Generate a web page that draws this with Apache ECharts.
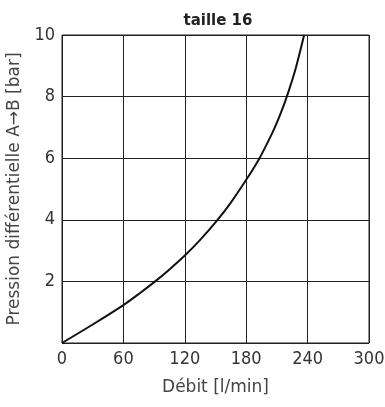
<!DOCTYPE html>
<html><head><meta charset="utf-8">
<script src="https://cdn.jsdelivr.net/npm/echarts@6/dist/echarts.min.js"></script>
<style>html,body{margin:0;padding:0;background:#fff}#c{width:385px;height:407px}</style>
</head><body><div id="c"></div>
<script>
const flowValues = [0, 30, 60, 75, 91, 105, 120, 135, 152, 165, 180, 186, 193, 200, 207, 213, 219.7, 228, 236.6];
const pressureValues = [0, 0.6, 1.23, 1.59, 2.0, 2.39, 2.84, 3.35, 4.0, 4.56, 5.3, 5.61, 6.0, 6.45, 6.93, 7.4, 8.0, 8.87, 10];
const xTicks = [0, 60, 120, 180, 240, 300];
const yTicks = [0, 2, 4, 6, 8, 10];
const titleText = 'taille 16';
const xName = 'Débit [l/min]';
const yName = 'Pression différentielle A→B [bar]';

const tickFont = {fontFamily: 'Liberation Sans Narrow, DejaVu Sans Condensed, sans-serif', fontSize: 18, color: '#333'};
const nameFont = {fontFamily: 'DejaVu Sans, sans-serif', fontSize: 17, color: '#444'};
const chart = echarts.init(document.getElementById('c'));
chart.setOption({
  animation: false,
  title: {text: titleText, left: 213, top: 9, textAlign: 'center',
    textStyle: {fontFamily: 'DejaVu Sans, sans-serif', fontSize: 15, fontWeight: 'bold', color: '#222'}},
  grid: {left: 62, right: 16, top: 35, bottom: 64, show: true, borderColor: '#222', borderWidth: 1,
    containLabel: false, outerBoundsMode: 'none'},
  xAxis: {type: 'value', min: xTicks[0], max: xTicks[xTicks.length - 1], interval: 60,
    name: xName, nameLocation: 'middle', nameGap: 36, nameTextStyle: nameFont,
    axisLine: {show: false}, axisTick: {show: false},
    axisLabel: Object.assign({margin: 7}, tickFont),
    splitLine: {show: true, lineStyle: {color: '#222', width: 1}}},
  yAxis: {type: 'value', min: yTicks[0], max: yTicks[yTicks.length - 1], interval: 2,
    name: yName, nameLocation: 'middle', nameGap: 35, nameTextStyle: nameFont,
    axisLine: {show: false}, axisTick: {show: false},
    axisLabel: Object.assign({margin: 7, formatter: v => v === 0 ? '' : String(v)}, tickFont),
    splitLine: {show: true, lineStyle: {color: '#222', width: 1}}},
  series: [{type: 'line', smooth: 0.3, symbol: 'none',
    data: flowValues.map((x, i) => [x, pressureValues[i]]),
    lineStyle: {color: '#111', width: 2}}]
});
</script></body></html>
